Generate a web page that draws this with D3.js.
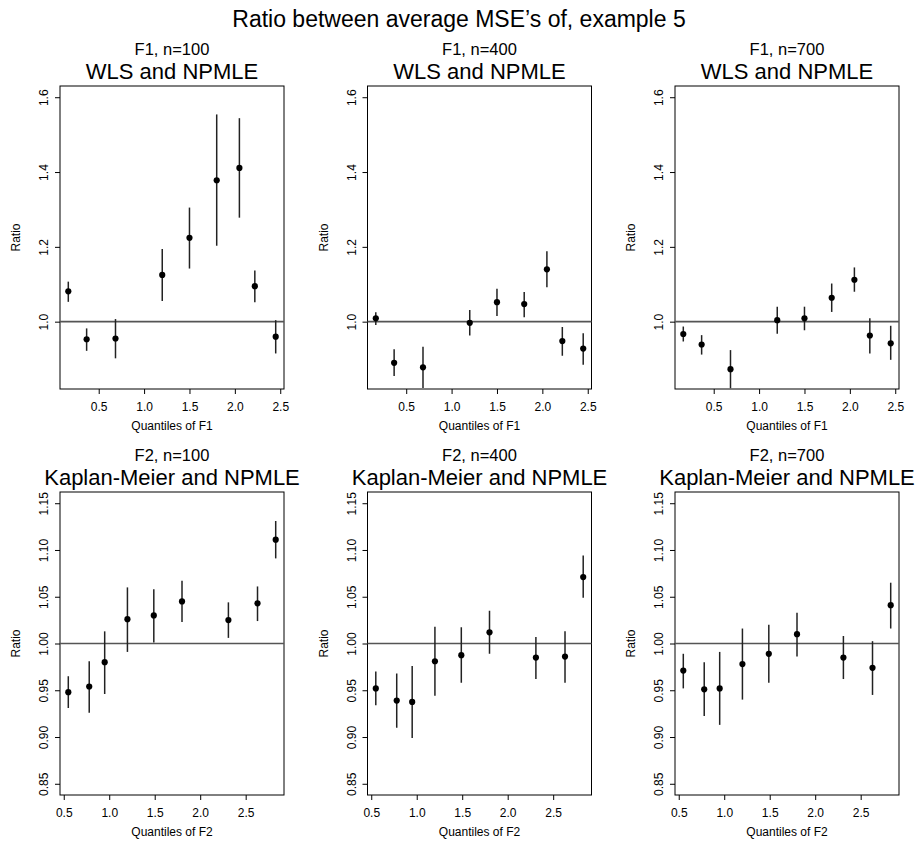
<!DOCTYPE html>
<html>
<head>
<meta charset="utf-8">
<script src="https://cdn.jsdelivr.net/npm/d3@7"></script>
<style>
  body { margin: 0; background: #fff; }
  svg { font-family: "Liberation Sans", Arial, Helvetica, sans-serif; }
</style>
</head>
<body>
<div id="chart"></div>
<script>
// quantile positions on the x axis
var f1Quantiles = [0.165, 0.367, 0.685, 1.20, 1.50, 1.80, 2.05, 2.22, 2.45];
var f2Quantiles = [0.55, 0.78, 0.95, 1.20, 1.49, 1.80, 2.31, 2.63, 2.83];

// WLS vs NPMLE (F1)
var wls100Ratio = [1.081, 0.953, 0.955, 1.125, 1.224, 1.378, 1.411, 1.095, 0.960];
var wls100Lower = [1.053, 0.922, 0.902, 1.055, 1.142, 1.203, 1.278, 1.052, 0.915];
var wls100Upper = [1.107, 0.982, 1.007, 1.194, 1.305, 1.554, 1.544, 1.137, 1.004];

var wls400Ratio = [1.009, 0.890, 0.878, 0.997, 1.052, 1.047, 1.140, 0.948, 0.928];
var wls400Lower = [0.991, 0.855, 0.823, 0.963, 1.015, 1.012, 1.092, 0.909, 0.885];
var wls400Upper = [1.025, 0.926, 0.933, 1.031, 1.088, 1.079, 1.188, 0.986, 0.969];

var wls700Ratio = [0.967, 0.939, 0.873, 1.004, 1.009, 1.064, 1.112, 0.963, 0.942];
var wls700Lower = [0.947, 0.912, 0.822, 0.968, 0.977, 1.026, 1.080, 0.915, 0.898];
var wls700Upper = [0.987, 0.964, 0.924, 1.040, 1.040, 1.102, 1.145, 1.009, 0.989];

// Kaplan-Meier vs NPMLE (F2)
var km100Ratio = [0.948, 0.954, 0.980, 1.026, 1.030, 1.045, 1.025, 1.043, 1.111];
var km100Lower = [0.931, 0.926, 0.946, 0.991, 1.001, 1.023, 1.006, 1.024, 1.091];
var km100Upper = [0.965, 0.981, 1.013, 1.060, 1.058, 1.067, 1.044, 1.061, 1.131];

var km400Ratio = [0.952, 0.939, 0.9375, 0.981, 0.9875, 1.012, 0.985, 0.986, 1.071];
var km400Lower = [0.934, 0.910, 0.899, 0.944, 0.958, 0.989, 0.962, 0.958, 1.049];
var km400Upper = [0.970, 0.968, 0.976, 1.018, 1.0175, 1.035, 1.007, 1.013, 1.094];

var km700Ratio = [0.971, 0.951, 0.952, 0.978, 0.989, 1.010, 0.985, 0.974, 1.041];
var km700Lower = [0.952, 0.9225, 0.913, 0.940, 0.958, 0.986, 0.962, 0.945, 1.016];
var km700Upper = [0.989, 0.980, 0.991, 1.016, 1.020, 1.033, 1.008, 1.0025, 1.065];

// labels and ticks
var mainTitle = "Ratio between average MSE\u2019s of, example 5";
var panelSubtitles = ["F1, n=100", "F1, n=400", "F1, n=700", "F2, n=100", "F2, n=400", "F2, n=700"];
var rowMethods = ["WLS and NPMLE", "Kaplan-Meier and NPMLE"];
var rowXLabels = ["Quantiles of F1", "Quantiles of F2"];
var xTicks = [0.5, 1.0, 1.5, 2.0, 2.5];
var topYTicks = [1.0, 1.2, 1.4, 1.6];
var bottomYTicks = [0.85, 0.90, 0.95, 1.00, 1.05, 1.10, 1.15];
var topYLimits = [0.85, 1.6];
var bottomYLimits = [0.85, 1.15];

var panels = [
  {x: f1Quantiles, ratio: wls100Ratio, lower: wls100Lower, upper: wls100Upper},
  {x: f1Quantiles, ratio: wls400Ratio, lower: wls400Lower, upper: wls400Upper},
  {x: f1Quantiles, ratio: wls700Ratio, lower: wls700Lower, upper: wls700Upper},
  {x: f2Quantiles, ratio: km100Ratio, lower: km100Lower, upper: km100Upper},
  {x: f2Quantiles, ratio: km400Ratio, lower: km400Lower, upper: km400Upper},
  {x: f2Quantiles, ratio: km700Ratio, lower: km700Lower, upper: km700Upper}
];

var svgWidth = 918;
var svgHeight = 842;
var boxWidth = 224;
var boxLefts = [60, 367.5, 675];
var boxTops = [86, 492];
var boxHeight = 303;

var svg = d3.select("#chart")
  .append("svg")
  .attr("width", svgWidth)
  .attr("height", svgHeight);

svg.append("text")
  .attr("x", svgWidth / 2)
  .attr("y", 27)
  .attr("text-anchor", "middle")
  .style("font-size", "23px")
  .text(mainTitle);

// R style padding of 4% on each side
function padded(lo, hi) {
  var r = hi - lo;
  return [lo - 0.04 * r, hi + 0.04 * r];
}

panels.forEach(function(p, i) {
  var row = Math.floor(i / 3);
  var col = i % 3;
  var left = boxLefts[col];
  var top = boxTops[row];

  var g = svg.append("g")
    .attr("transform", `translate(${left}, ${top})`);

  var xScale = d3.scaleLinear()
    .domain(padded(d3.min(p.x), d3.max(p.x)))
    .range([0, boxWidth]);
  var lim = row === 0 ? topYLimits : bottomYLimits;
  var yScale = d3.scaleLinear()
    .domain(padded(lim[0], lim[1]))
    .range([boxHeight, 0]);

  var clipId = "clip" + i;
  g.append("clipPath")
    .attr("id", clipId)
    .append("rect")
    .attr("width", boxWidth)
    .attr("height", boxHeight);

  // axes
  var bottomAxis = d3.axisBottom(xScale)
    .tickValues(xTicks)
    .tickSize(5)
    .tickFormat(d3.format(".1f"));
  var xAxisG = g.append("g")
    .attr("transform", `translate(0, ${boxHeight})`)
    .call(bottomAxis);
  xAxisG.select(".domain").remove();
  xAxisG.selectAll("text")
    .attr("y", 22)
    .attr("dy", null)
    .style("font-size", "12px")
    .style("font-family", "inherit");

  var leftAxis = d3.axisLeft(yScale)
    .tickValues(row === 0 ? topYTicks : bottomYTicks)
    .tickSize(5)
    .tickFormat(d3.format(row === 0 ? ".1f" : ".2f"));
  var yAxisG = g.append("g").call(leftAxis);
  yAxisG.select(".domain").remove();
  yAxisG.selectAll("text")
    .attr("x", 0)
    .attr("dy", null)
    .attr("text-anchor", "middle")
    .attr("transform", "translate(-12, 0) rotate(-90)")
    .style("font-size", "12px")
    .style("font-family", "inherit");

  g.selectAll(".tick line").attr("stroke", "#000");

  g.append("rect")
    .attr("width", boxWidth)
    .attr("height", boxHeight)
    .attr("fill", "none")
    .attr("stroke", "#000")
    .attr("stroke-width", 1);

  // reference line at ratio 1
  g.append("line")
    .attr("x1", 0)
    .attr("x2", boxWidth)
    .attr("y1", yScale(1))
    .attr("y2", yScale(1))
    .attr("stroke", "#555")
    .attr("stroke-width", 1.6);

  var pts = p.x.map(function(x, k) {
    return {x: x, r: p.ratio[k], lo: p.lower[k], hi: p.upper[k]};
  });

  var marks = g.append("g").attr("clip-path", `url(#${clipId})`);
  marks.selectAll("line.err")
    .data(pts)
    .enter()
    .append("line")
    .attr("class", "err")
    .attr("x1", d => xScale(d.x))
    .attr("x2", d => xScale(d.x))
    .attr("y1", d => yScale(d.lo))
    .attr("y2", d => yScale(d.hi))
    .attr("stroke", "#222")
    .attr("stroke-width", 1.5);

  marks.selectAll("circle")
    .data(pts)
    .enter()
    .append("circle")
    .attr("cx", d => xScale(d.x))
    .attr("cy", d => yScale(d.r))
    .attr("r", 3.1)
    .style("fill", "#000");

  // titles and axis labels
  g.append("text")
    .attr("x", boxWidth / 2)
    .attr("y", -31)
    .attr("text-anchor", "middle")
    .style("font-size", "16.5px")
    .text(panelSubtitles[i]);
  g.append("text")
    .attr("x", boxWidth / 2)
    .attr("y", -7)
    .attr("text-anchor", "middle")
    .style("font-size", "22px")
    .text(rowMethods[row]);
  g.append("text")
    .attr("x", boxWidth / 2)
    .attr("y", boxHeight + 41)
    .attr("text-anchor", "middle")
    .style("font-size", "12px")
    .text(rowXLabels[row]);
  g.append("text")
    .attr("transform", `translate(-40, ${boxHeight / 2}) rotate(-90)`)
    .attr("text-anchor", "middle")
    .style("font-size", "12px")
    .text("Ratio");
});
</script>
</body>
</html>
